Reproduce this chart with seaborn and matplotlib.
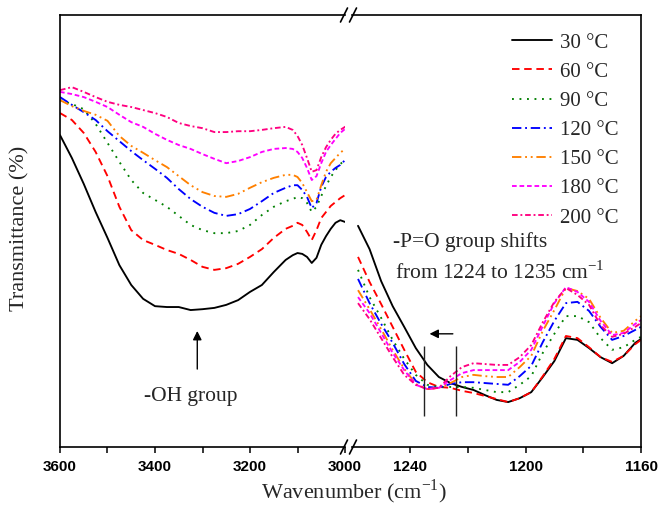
import numpy as np
import pandas as pd
import matplotlib
matplotlib.use("Agg")
import matplotlib.pyplot as plt
from matplotlib.lines import Line2D
import seaborn as sns

# ---- temperatures and styling keys ----
temperatures = ["30 °C", "60 °C", "90 °C", "120 °C", "150 °C", "180 °C", "200 °C"]

# ---- O-H stretching region (3600 - 2990 cm-1) ----
oh_wavenumber = [3600, 3575, 3550, 3525, 3500, 3475, 3450, 3425, 3400, 3375,
                 3350, 3325, 3300, 3275, 3250, 3225, 3200, 3175, 3150, 3125,
                 3110, 3100, 3090, 3080, 3070, 3060, 3050, 3040, 3030, 3020,
                 3010, 3000, 2990]
oh_30 = [72.2, 66.9, 60.9, 54.4, 48.4, 42.1, 37.5, 34.3, 32.6, 32.4, 32.4, 31.7, 31.9,
         32.2, 32.9, 34.0, 35.9, 37.5, 40.5, 43.3, 44.4, 44.9, 44.7, 44.0, 42.6, 43.8,
         46.8, 48.8, 50.5, 51.9, 52.5, 52.1, 52.1]
oh_60 = [77.3, 75.7, 72.7, 68.3, 62.7, 55.6, 50.2, 47.9, 46.8, 45.6, 44.7, 43.3, 41.7,
         41.0, 41.4, 42.4, 44.0, 45.8, 48.4, 50.5, 51.2, 51.9, 51.4, 49.8, 47.9, 50.2,
         53.0, 54.4, 55.8, 56.7, 57.6, 58.3, 58.6]
oh_90 = [80.3, 79.4, 78.2, 74.8, 70.4, 66.0, 61.8, 58.8, 57.2, 55.6, 53.5, 51.4, 50.2,
         49.5, 49.5, 50.0, 51.4, 53.7, 55.6, 56.9, 57.4, 57.9, 57.6, 56.5, 54.4, 55.6,
         58.1, 60.4, 62.5, 64.1, 65.5, 66.4, 66.9]
oh_120 = [81.0, 79.2, 77.5, 75.7, 73.1, 70.8, 68.5, 66.4, 64.4, 62.3, 59.7, 57.4, 55.6,
          54.2, 53.5, 53.9, 55.1, 56.9, 58.8, 60.0, 60.6, 60.6, 59.5, 57.9, 55.3, 56.5,
          60.2, 62.5, 63.7, 64.6, 65.3, 66.4, 67.1]
oh_150 = [80.3, 78.9, 77.8, 76.9, 75.5, 72.0, 69.7, 68.1, 66.4, 64.8, 62.7, 60.6, 59.0,
          58.1, 57.9, 58.6, 60.0, 61.3, 62.3, 63.0, 63.0, 62.5, 61.1, 59.0, 56.9, 57.2,
          60.6, 63.7, 65.7, 66.9, 68.1, 69.0, 69.4]
oh_180 = [82.2, 81.7, 81.0, 79.9, 78.7, 76.9, 75.2, 74.1, 72.5, 71.1, 69.9, 69.0, 67.8,
          66.7, 65.7, 66.2, 67.1, 68.3, 69.0, 69.2, 69.0, 68.3, 66.9, 64.6, 61.8, 62.7,
          65.7, 68.3, 69.9, 71.3, 72.7, 73.6, 74.1]
oh_200 = [82.6, 83.3, 82.2, 81.0, 79.9, 79.2, 78.7, 78.0, 77.3, 76.4, 75.0, 74.3, 73.8,
          72.9, 72.9, 73.1, 73.1, 73.4, 73.8, 74.1, 73.4, 72.0, 69.9, 66.9, 63.7, 64.1,
          67.1, 69.4, 71.1, 72.5, 73.4, 74.1, 74.5]

# ---- P=O stretching region (1258 - 1160 cm-1) ----
po_wavenumber = [1258, 1254, 1250, 1246, 1242, 1238, 1234, 1230, 1226, 1222, 1218, 1214,
                 1210, 1206, 1202, 1198, 1194, 1190, 1186, 1182, 1178, 1174, 1170, 1166,
                 1162, 1160]
po_30 = [51.2, 45.8, 38.4, 32.6, 27.8, 22.9, 19.0, 16.2, 14.8, 13.9, 13.2, 12.0, 10.9,
         10.4, 11.3, 12.7, 16.2, 19.9, 25.2, 24.8, 22.9, 20.8, 19.4, 21.1, 24.1, 25.0]
po_60 = [44.0, 38.2, 33.1, 27.8, 22.5, 17.4, 15.0, 13.9, 13.7, 13.0, 12.5, 11.8, 11.1,
         10.4, 11.3, 12.7, 16.4, 20.4, 25.7, 25.2, 23.1, 20.8, 19.7, 21.1, 23.8, 24.8]
po_90 = [41.0, 34.7, 29.9, 24.8, 20.4, 16.7, 14.4, 13.9, 13.9, 13.9, 13.7, 13.2, 12.7,
         12.7, 14.4, 16.4, 21.8, 26.2, 30.3, 30.3, 28.9, 25.2, 22.5, 23.1, 24.8, 25.5]
po_120 = [38.9, 33.3, 28.5, 24.1, 19.2, 15.3, 13.9, 13.7, 14.6, 15.0, 15.0, 14.8, 14.6,
          14.4, 16.4, 18.8, 24.3, 29.2, 33.3, 33.6, 31.5, 27.8, 24.8, 25.7, 27.1, 27.8]
po_150 = [36.3, 31.9, 27.3, 22.5, 18.1, 14.6, 13.4, 13.7, 14.8, 16.2, 16.7, 16.4, 16.2,
          16.2, 18.5, 21.1, 26.9, 31.7, 36.8, 36.1, 34.3, 29.9, 26.4, 26.9, 29.2, 30.3]
po_180 = [34.7, 31.0, 26.4, 21.8, 17.8, 14.4, 13.4, 13.7, 15.5, 17.1, 17.8, 17.8, 17.8,
          17.8, 19.7, 22.5, 28.0, 33.3, 37.0, 35.9, 33.6, 29.2, 25.9, 26.4, 28.5, 29.4]
po_200 = [33.3, 29.6, 25.2, 20.8, 16.7, 14.4, 13.4, 13.7, 16.4, 18.5, 19.4, 19.2, 19.0,
          19.0, 20.8, 23.6, 28.9, 33.6, 36.8, 35.2, 32.9, 28.2, 25.5, 26.2, 27.8, 28.7]

# P=O band positions marked on the plot
po_shift_marks = [1235, 1224]

oh_series = [oh_30, oh_60, oh_90, oh_120, oh_150, oh_180, oh_200]
po_series = [po_30, po_60, po_90, po_120, po_150, po_180, po_200]


def long_frame(wavenumber, series):
    parts = []
    for label, values in zip(temperatures, series):
        parts.append(pd.DataFrame({"wavenumber": wavenumber,
                                   "transmittance": values,
                                   "temperature": label}))
    return pd.concat(parts, ignore_index=True)


df_oh = long_frame(oh_wavenumber, oh_series)
df_po = long_frame(po_wavenumber, po_series)

colors = dict(zip(temperatures, ["#000000", "#FF0000", "#008000", "#0000FF",
                                 "#FF8000", "#FF00FF", "#FF0080"]))
dashes = dict(zip(temperatures, ["", (4, 2.5), (1, 3), (5, 2, 1, 2),
                                 (5, 2, 1, 2, 1, 2), (2.5, 1.5), (3, 1.5, 1, 1.5)]))

sns.set_style("ticks")
plt.rcParams["font.family"] = ["Liberation Serif", "DejaVu Serif"]
plt.rcParams["mathtext.fontset"] = "custom"
plt.rcParams["mathtext.rm"] = "Liberation Serif"

W, H = 659, 508
fig = plt.figure(figsize=(W / 100, H / 100), dpi=100)

x_left0, x_left1 = 60, 345      # px
x_right0, x_right1 = 352, 641   # px
y_top, y_bot = 15, 447          # px


def fx(px):
    return px / W


def fy(py):
    return 1 - py / H


ax_l = fig.add_axes([fx(x_left0), fy(y_bot), fx(x_left1 - x_left0), (y_bot - y_top) / H])
ax_r = fig.add_axes([fx(x_right0), fy(y_bot), fx(x_right1 - x_right0), (y_bot - y_top) / H])

common = dict(x="wavenumber", y="transmittance", hue="temperature", style="temperature",
              palette=colors, dashes=dashes, estimator=None, sort=False,
              legend=False, linewidth=1.35)
sns.lineplot(data=df_oh, ax=ax_l, **common)
sns.lineplot(data=df_po, ax=ax_r, **common)

ax_l.set_xlim(3600, 3000)
ax_r.set_xlim(1240 + (410 - x_right0) / 2.8875, 1160)
for ax in (ax_l, ax_r):
    ax.set_ylim(0, 100)
    ax.set_yticks([])
    ax.set_xlabel("")
    ax.set_ylabel("")
    for s in ax.spines.values():
        s.set_linewidth(1.2)
        s.set_color("black")
    ax.tick_params(axis="x", which="both", direction="out", length=4.5, width=1.1,
                   pad=5, colors="black")

ax_l.spines["right"].set_visible(False)
ax_r.spines["left"].set_visible(False)

tick_font = dict(fontweight="bold", fontfamily="Liberation Sans", fontsize=11)
ax_l.set_xticks([3600, 3400, 3200, 3000], labels=["3600", "3400", "3200", "3000"], **tick_font)
ax_l.set_xticks([3500, 3300, 3100], minor=True)
ax_r.set_xticks([1240, 1200, 1160], labels=["1240", "1200", "1160"], **tick_font)
ax_r.set_xticks([1220, 1180], minor=True)

# axis break marks
for xp in (x_left1 - 1, x_right0 + 1):
    for yp in (y_top, y_bot):
        fig.add_artist(Line2D([fx(xp - 3.5), fx(xp + 3.5)], [fy(yp + 7), fy(yp - 7)],
                              transform=fig.transFigure, color="black", lw=1.2))

# axis titles
fig.text(fx(354), fy(492), "Wavenumber (cm$^{\\mathregular{-1}}$)", ha="center",
         va="center", fontsize=16)
fig.text(fx(20), fy(228), "Transmittance (%)", rotation=90, ha="center", va="center",
         fontsize=16)

# legend
handles = ax_r.get_lines()[:len(temperatures)]
ax_r.legend(handles, temperatures, loc="upper left",
            bbox_to_anchor=(fx(512), fy(33)), bbox_transform=fig.transFigure,
            frameon=False, fontsize=15, handlelength=1.9, handletextpad=0.4,
            labelspacing=0.46, borderpad=0, borderaxespad=0)

# annotations: -OH band
ax_l.annotate("", xy=(3311, 27.5), xytext=(3311, 17.4),
              arrowprops=dict(arrowstyle="-|>", color="black", lw=1.0, mutation_scale=13))
ax_l.text(3325, 11.8, "-OH group", ha="center", va="center", fontsize=15.5)

# annotations: P=O band shift
ax_r.text(1245.9, 47.5, "-P=O group shifts", ha="left", va="center", fontsize=15.5)
ax_r.text(1245.2, 40.5, "from 1224 to 1235 cm$^{\\mathregular{-1}}$", ha="left",
          va="center", fontsize=15.5)
ax_r.vlines(po_shift_marks, 7.2, 23.4, color="#222222", lw=1.0)
ax_r.annotate("", xy=(po_shift_marks[0] - 0.8, 26.2), xytext=(po_shift_marks[1] + 0.2, 26.2),
              arrowprops=dict(arrowstyle="-|>", color="black", lw=1.0, mutation_scale=13))

fig.savefig("out.png", dpi=100)
